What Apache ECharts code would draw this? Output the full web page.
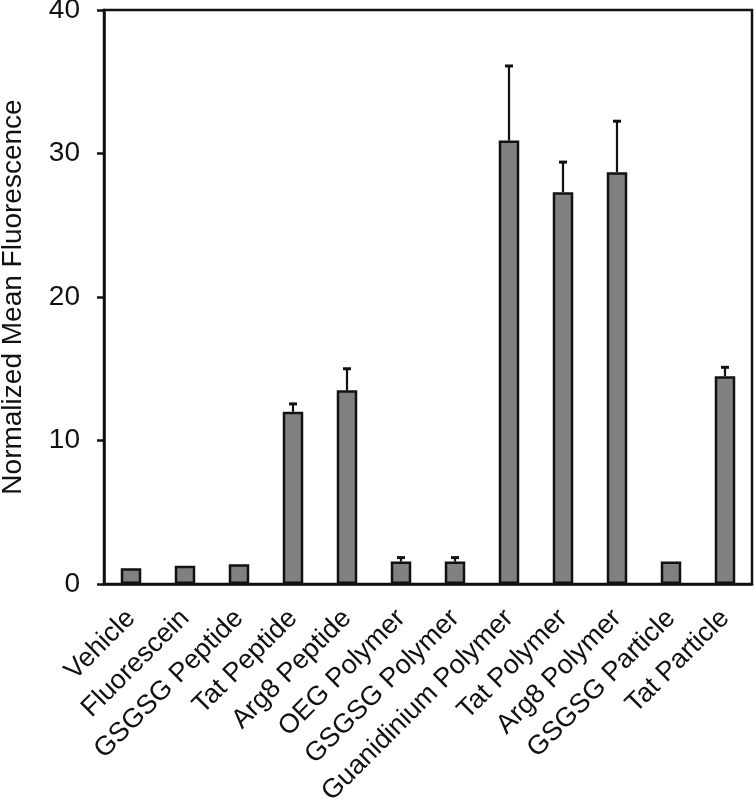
<!DOCTYPE html>
<html>
<head>
<meta charset="utf-8">
<script src="https://cdn.jsdelivr.net/npm/echarts@6/dist/echarts.min.js"></script>
<style>
html,body{margin:0;padding:0;background:#fff;}
#chart{width:756px;height:806px;}
</style>
</head>
<body>
<div id="chart"></div>
<script>
const categories = ["Vehicle","Fluorescein","GSGSG Peptide","Tat Peptide","Arg8 Peptide","OEG Polymer","GSGSG Polymer","Guanidinium Polymer","Tat Polymer","Arg8 Polymer","GSGSG Particle","Tat Particle"];
const means = [1.1, 1.28, 1.37, 12.0, 13.5, 1.56, 1.56, 30.9, 27.3, 28.7, 1.56, 14.47];
const errors = [0, 0, 0, 0.55, 1.5, 0.28, 0.28, 5.2, 2.1, 3.55, 0, 0.63];
const yTicks = [0, 10, 20, 30, 40];
const yTitle = "Normalized Mean Fluorescence";

const FONT = "'Liberation Sans', Arial, sans-serif";
const chart = echarts.init(document.getElementById('chart'), null, {renderer: 'canvas'});

const errData = categories.map((c, i) => [i, means[i], errors[i]]);

chart.setOption({
  animation: false,
  backgroundColor: '#fff',
  grid: {left: 104, right: 4, top: 10, bottom: 222, outerBoundsMode: 'none', containLabel: false,
         show: true, borderColor: '#111', borderWidth: 2.5, backgroundColor: 'transparent'},
  xAxis: {
    type: 'category',
    data: categories,
    axisLine: {show: true, lineStyle: {color: '#111', width: 2.5}},
    axisTick: {show: false},
    axisLabel: {rotate: 45, interval: 0, fontSize: 27, color: '#111', fontFamily: FONT, margin: 30}
  },
  yAxis: {
    type: 'value',
    min: yTicks[0],
    max: yTicks[yTicks.length - 1],
    interval: yTicks[1] - yTicks[0],
    name: yTitle,
    nameLocation: 'middle',
    nameRotate: 90,
    nameGap: 77,
    nameTextStyle: {fontSize: 28, color: '#111', fontFamily: FONT},
    axisLine: {show: true, lineStyle: {color: '#111', width: 2.5}},
    axisTick: {show: true, length: 7, lineStyle: {color: '#111', width: 2.5}},
    splitLine: {show: false},
    axisLabel: {fontSize: 28, color: '#111', fontFamily: FONT, margin: 24}
  },
  series: [
    {
      type: 'bar',
      data: means,
      barWidth: 20.5,
      itemStyle: {color: '#808080', borderColor: '#111', borderWidth: 2.5}
    },
    {
      type: 'custom',
      data: errData,
      z: 5,
      renderItem: function (params, api) {
        const i = api.value(0), m = api.value(1), e = api.value(2);
        if (!e) return null;
        const p0 = api.coord([i, m]);
        const p1 = api.coord([i, m + e]);
        const cap = 4;
        return {
          type: 'group',
          children: [
            {type: 'line', shape: {x1: p0[0], y1: p0[1], x2: p1[0], y2: p1[1]}, style: {stroke: '#111', lineWidth: 2.2}},
            {type: 'line', shape: {x1: p1[0] - cap, y1: p1[1], x2: p1[0] + cap, y2: p1[1]}, style: {stroke: '#111', lineWidth: 3}}
          ]
        };
      }
    }
  ]
});
</script>
</body>
</html>
